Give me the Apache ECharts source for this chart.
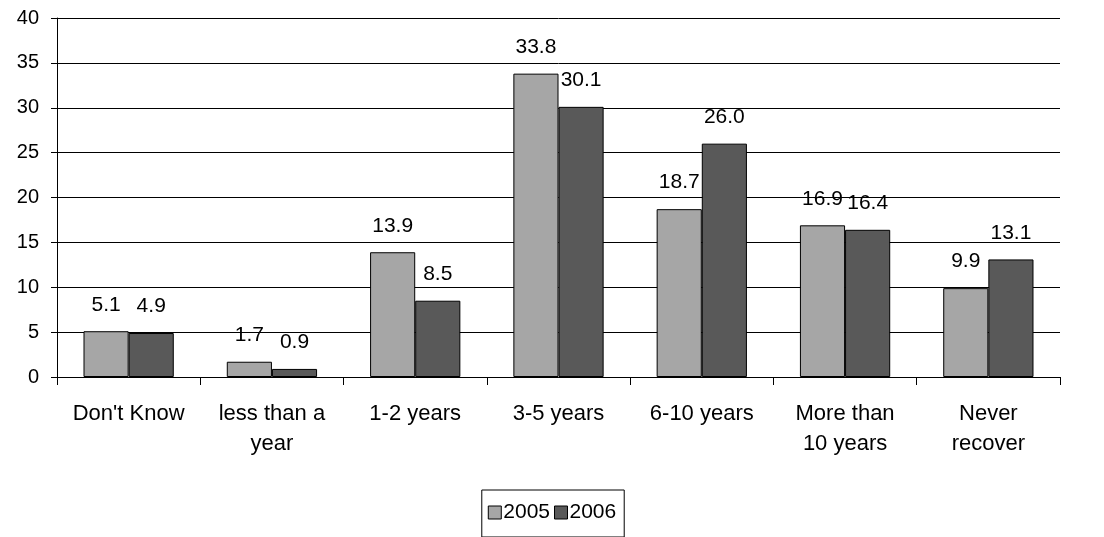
<!DOCTYPE html>
<html>
<head>
<meta charset="utf-8">
<script src="https://cdn.jsdelivr.net/npm/echarts@6/dist/echarts.min.js"></script>
<style>
  html, body { margin: 0; padding: 0; background: #fff; }
  #chart { width: 1104px; height: 537px; }
</style>
</head>
<body>
<div id="chart"></div>
<script>
const categories = ["Don't Know", 'less than a\nyear', '1-2 years', '3-5 years', '6-10 years', 'More than\n10 years', 'Never\nrecover'];
const values2005 = [5.1, 1.7, 13.9, 33.8, 18.7, 16.9, 9.9];
const values2006 = [4.9, 0.9, 8.5, 30.1, 26.0, 16.4, 13.1];
const yTicks = { min: 0, max: 40, interval: 5 };

const font = 'Liberation Sans, Arial, sans-serif';

function barSeries(name, data, color) {
    return {
        name: name,
        type: 'bar',
        data: data,
        barGap: 0,
        barCategoryGap: '37%',
        itemStyle: { color: color, borderColor: '#000', borderWidth: 1 },
        label: {
            show: true,
            position: 'top',
            distance: 16,
            color: '#000',
            fontSize: 21,
            fontFamily: font,
            formatter: (p) => p.value.toFixed(1),
        },
    };
}

let myChart = echarts.init(document.getElementById('chart'));
myChart.setOption({
    animation: false,
    grid: { left: 57, right: 44, top: 18, bottom: 160 },
    legend: {
        top: 490,
        left: 'center',
        icon: 'rect',
        itemWidth: 13,
        itemHeight: 13,
        itemGap: 4,
        padding: [12, 8, 14, 6],
        borderColor: '#000',
        borderWidth: 1,
        borderRadius: 0,
        textStyle: { color: '#000', fontSize: 21, fontFamily: font, padding: [0, 0, 0, -3] },
        itemStyle: { borderColor: '#000', borderWidth: 1 },
        data: ['2005', '2006'],
    },
    xAxis: {
        type: 'category',
        data: categories,
        axisLine: { lineStyle: { color: '#000' } },
        axisTick: { show: true, alignWithLabel: false, length: 8, lineStyle: { color: '#000' } },
        axisLabel: { color: '#000', fontSize: 22, fontFamily: font, margin: 22, lineHeight: 30, interval: 0 },
    },
    yAxis: {
        type: 'value',
        min: yTicks.min,
        max: yTicks.max,
        interval: yTicks.interval,
        axisLine: { show: true, lineStyle: { color: '#000' } },
        axisTick: { show: true, length: 6, lineStyle: { color: '#000' } },
        axisLabel: { color: '#000', fontSize: 20, fontFamily: font, margin: 18 },
        splitLine: { show: true, lineStyle: { color: '#000', width: 1 } },
    },
    series: [
        barSeries('2005', values2005, '#a6a6a6'),
        barSeries('2006', values2006, '#595959'),
    ],
});
</script>
</body>
</html>
